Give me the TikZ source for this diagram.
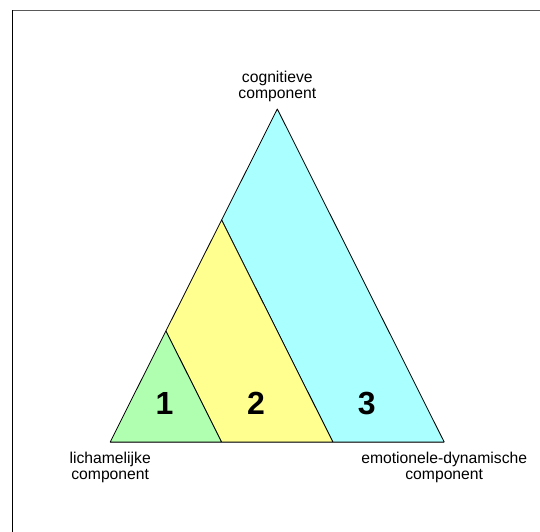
\documentclass[tikz,border=0pt]{standalone}
\usepackage{fontspec}
\setmainfont{Liberation Sans}
\usepackage{xcolor}
\usetikzlibrary{positioning,calc}

\definecolor{zonegreen}{HTML}{B0FFB0}
\definecolor{zoneyellow}{HTML}{FFFF90}
\definecolor{zonecyan}{HTML}{AAFFFF}

\begin{document}
\begin{tikzpicture}[
    x=1pt, y=-1pt,
    corner/.style={align=center, font=\fontsize{15.7}{15.9}\selectfont, inner sep=0pt},
    zonenum/.style={font=\fontsize{32}{32}\selectfont\bfseries, inner sep=0pt},
    zone/.style={draw=black, line width=0.8pt, line join=round}
]
    \useasboundingbox (0,0) rectangle (540,531);

    % Frame
    \draw[gray!70!black, line width=1pt] (12,10.5) -- (545,10.5);
    \draw[black, line width=1pt] (12,10) -- (12,535);

    % Corners of the triangle
    \coordinate (top) at (277.3,109);
    \coordinate (left) at (110.2,442);
    \coordinate (right) at (444.2,442);
    \coordinate (b1) at ($(left)!1/3!(right)$);
    \coordinate (b2) at ($(left)!2/3!(right)$);
    \coordinate (s1) at ($(left)!1/3!(top)$);
    \coordinate (s2) at ($(left)!2/3!(top)$);

    % Zones
    \filldraw[zone, fill=zonecyan] (s2) -- (top) -- (right) -- (b2) -- cycle;
    \filldraw[zone, fill=zoneyellow] (s1) -- (s2) -- (b2) -- (b1) -- cycle;
    \filldraw[zone, fill=zonegreen] (left) -- (s1) -- (b1) -- cycle;

    % Base
    \draw[gray!60!black, line width=1pt] (left) -- (right);

    % Zone numbers
    \node[zonenum] (n1) at (164.6,403) {1};
    \node[zonenum] (n2) at (255.9,403) {2};
    \node[zonenum] (n3) at (366.7,403) {3};

    % Labels
    \node[corner] (cog) at (277.3,86) {cognitieve\\component};
    \node[corner] (lich) at (110.2,467) {lichamelijke\\component};
    \node[corner] (emo) at (444.2,467) {emotionele-dynamische\\component};

\end{tikzpicture}
\end{document}
